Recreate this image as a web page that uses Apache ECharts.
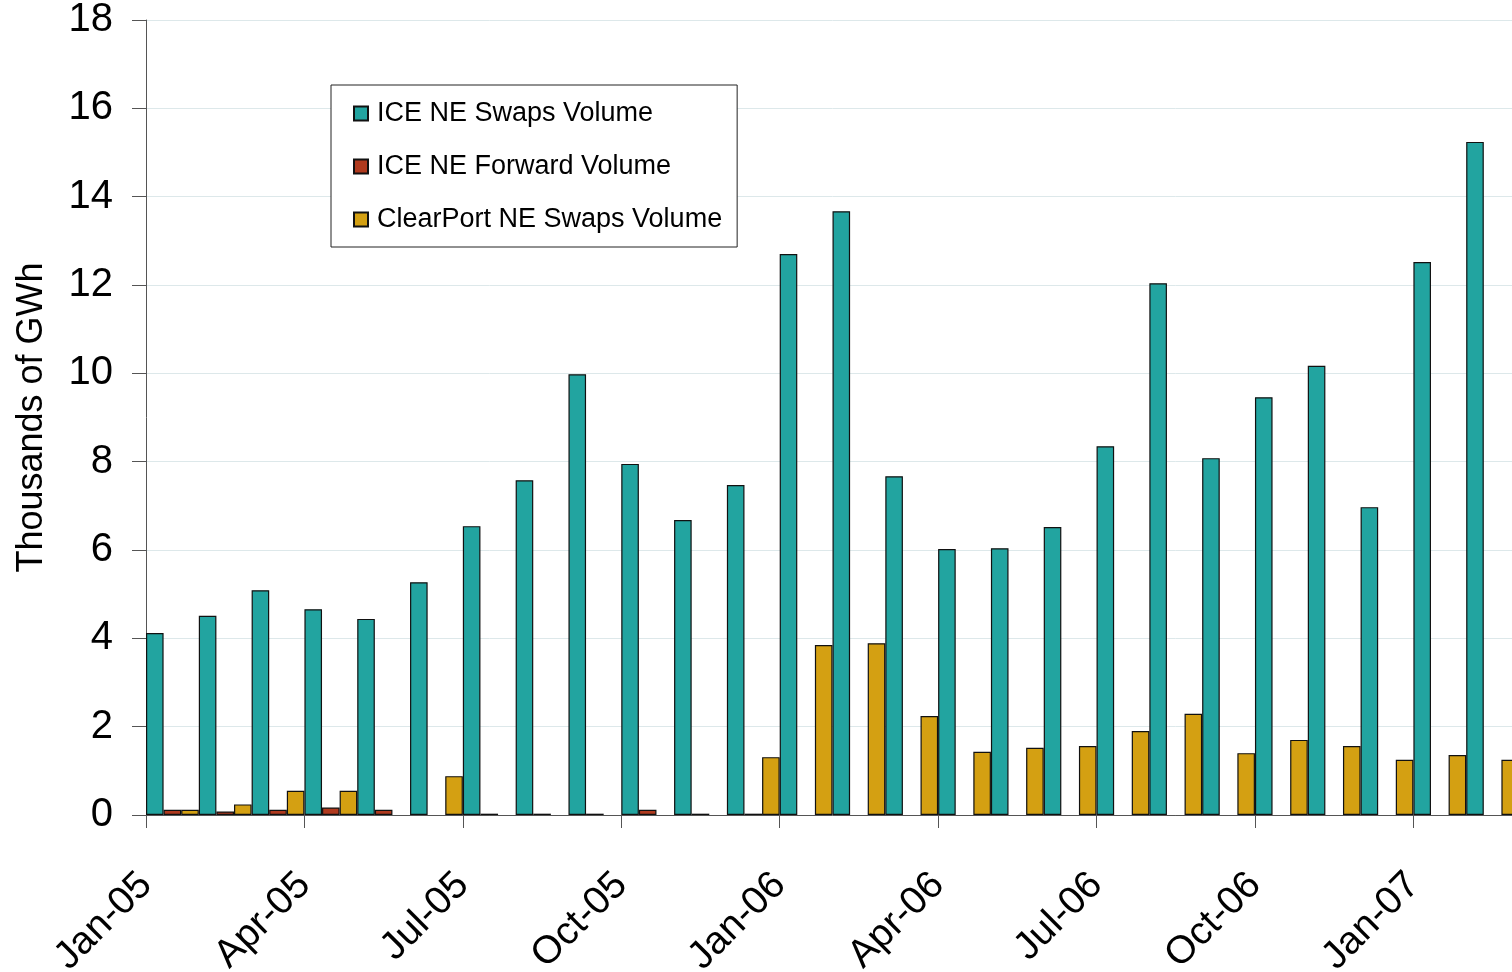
<!DOCTYPE html>
<html>
<head>
<meta charset="utf-8">
<script src="https://cdn.jsdelivr.net/npm/echarts@6/dist/echarts.min.js"></script>
<style>
  html, body { margin: 0; padding: 0; overflow: hidden; background: #fff; }
  #chart { width: 1560px; height: 972px; }
</style>
</head>
<body>
<div id="chart"></div>
<script>
// months with bars (Jan-05 .. Feb-07)
var months = ['Jan-05','Feb-05','Mar-05','Apr-05','May-05','Jun-05','Jul-05','Aug-05','Sep-05','Oct-05','Nov-05','Dec-05',
              'Jan-06','Feb-06','Mar-06','Apr-06','May-06','Jun-06','Jul-06','Aug-06','Sep-06','Oct-06','Nov-06','Dec-06',
              'Jan-07','Feb-07']
// tick labels sit on the month boundaries, so one extra entry
var tickLabels = months.concat(['Mar-07'])

var iceSwaps = [4.12, 4.51, 5.09, 4.66, 4.44, 5.27, 6.54, 7.58, 9.98, 7.95, 6.68, 7.47,
                12.70, 13.67, 7.67, 6.02, 6.04, 6.52, 8.35, 12.04, 8.08, 9.46, 10.17, 6.97,
                12.52, 15.24]
var iceForward = [0.12, 0.08, 0.12, 0.17, 0.12, null, 0.03, 0.03, 0.03, 0.12, 0.03, 0.03,
                  null, null, null, null, null, null, null, null, null, null, null, null,
                  null, null]
var clearPort = [0.12, 0.24, 0.55, 0.55, null, 0.88, null, null, null, null, null, 1.31,
                 3.85, 3.89, 2.24, 1.43, 1.52, 1.56, 1.90, 2.29, 1.40, 1.70, 1.56, 1.25,
                 1.36, 1.25]

var font = 'Liberation Sans, Arial, sans-serif'

var chart = echarts.init(document.getElementById('chart'))
chart.setOption({
    animation: false,
    backgroundColor: '#fff',
    textStyle: { fontFamily: font, color: '#000' },
    legend: {
        orient: 'vertical',
        left: 331,
        top: 85,
        padding: [15, 15, 14, 22],
        itemGap: 26,
        itemWidth: 14,
        itemHeight: 14,
        icon: 'rect',
        borderColor: '#222',
        borderWidth: 1,
        backgroundColor: '#fff',
        textStyle: { fontSize: 27, color: '#000', fontFamily: font, padding: [0, 0, 0, 4] },
        data: ['ICE NE Swaps Volume', 'ICE NE Forward Volume', 'ClearPort NE Swaps Volume']
    },
    grid: {
        left: 146,
        right: 41,
        top: 20,
        bottom: 157,
        containLabel: false,
        outerBoundsMode: 'none'
    },
    xAxis: [{
        type: 'category',
        data: months,
        position: 'bottom',
        boundaryGap: true,
        axisLine: { lineStyle: { color: '#555', width: 1 } },
        axisTick: { show: true, interval: 2, length: 13, lineStyle: { color: '#555' } },
        axisLabel: { show: false }
    }, {
        type: 'category',
        data: tickLabels,
        position: 'bottom',
        boundaryGap: false,
        axisLine: { show: false },
        axisTick: { show: false },
        axisLabel: {
            interval: 2,
            rotate: 45,
            margin: 64,
            fontSize: 39,
            color: '#000',
            fontFamily: font
        }
    }],
    yAxis: {
        type: 'value',
        min: 0,
        max: 18,
        interval: 2,
        name: 'Thousands of GWh',
        nameLocation: 'middle',
        nameGap: 96,
        nameTextStyle: { fontSize: 36, color: '#000', fontFamily: font },
        axisLine: { show: true, lineStyle: { color: '#555', width: 1 } },
        axisTick: { show: true, length: 14, lineStyle: { color: '#555' } },
        axisLabel: { fontSize: 40, color: '#000', margin: 33, fontFamily: font },
        splitLine: { lineStyle: { color: '#dde8ea', width: 1 } }
    },
    series: [{
        name: 'ICE NE Swaps Volume',
        type: 'bar',
        data: iceSwaps,
        barGap: '0%',
        barCategoryGap: '0%',
        itemStyle: { color: '#22a4a0', borderColor: '#111', borderWidth: 1.2 }
    }, {
        name: 'ICE NE Forward Volume',
        type: 'bar',
        data: iceForward,
        barGap: '0%',
        barCategoryGap: '0%',
        itemStyle: { color: '#b03a1e', borderColor: '#111', borderWidth: 1.2 }
    }, {
        name: 'ClearPort NE Swaps Volume',
        type: 'bar',
        data: clearPort,
        barGap: '0%',
        barCategoryGap: '0%',
        itemStyle: { color: '#d4a012', borderColor: '#111', borderWidth: 1.2 }
    }]
})
</script>
</body>
</html>
